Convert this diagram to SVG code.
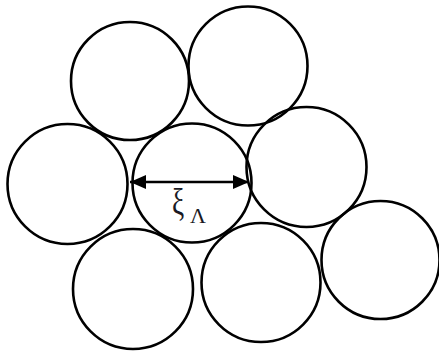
<svg xmlns="http://www.w3.org/2000/svg" width="439" height="351" viewBox="0 0 439 351">
<style>
.c{fill:none;stroke:#000;stroke-width:2.6}
.t{font-family:"Liberation Serif","Times New Roman",serif;fill:#1a1a24}
</style>
<defs>
<marker id="ah" viewBox="0 0 16 14" refX="16" refY="7" markerWidth="16" markerHeight="14" markerUnits="userSpaceOnUse" orient="auto-start-reverse">
<path d="M0,0 L16,7 L0,14 Z" fill="#000"/>
</marker>
</defs>
<rect width="439" height="351" fill="#fff"/>
<g id="n1"><circle class="c" cx="130" cy="81" r="59"/></g>
<g id="n2"><circle class="c" cx="248" cy="66" r="59.5"/></g>
<g id="n3"><circle class="c" cx="67.5" cy="184" r="60"/></g>
<g id="n4"><circle class="c" cx="192" cy="183" r="59.5"/></g>
<g id="n5"><circle class="c" cx="306.5" cy="167" r="60"/></g>
<g id="n6"><circle class="c" cx="133" cy="289" r="60"/></g>
<g id="n7"><circle class="c" cx="261" cy="282.5" r="59.5"/></g>
<g id="n8"><circle class="c" cx="380.5" cy="260" r="59"/></g>
<g id="connectors">
<line x1="130" y1="182" x2="249" y2="182" stroke="#000" stroke-width="2.6" marker-start="url(#ah)" marker-end="url(#ah)"/>
</g>
<text class="t" transform="translate(172,215) scale(0.72,1)" font-size="38">ξ</text>
<text class="t" x="190" y="223" font-size="22">Λ</text>
</svg>
